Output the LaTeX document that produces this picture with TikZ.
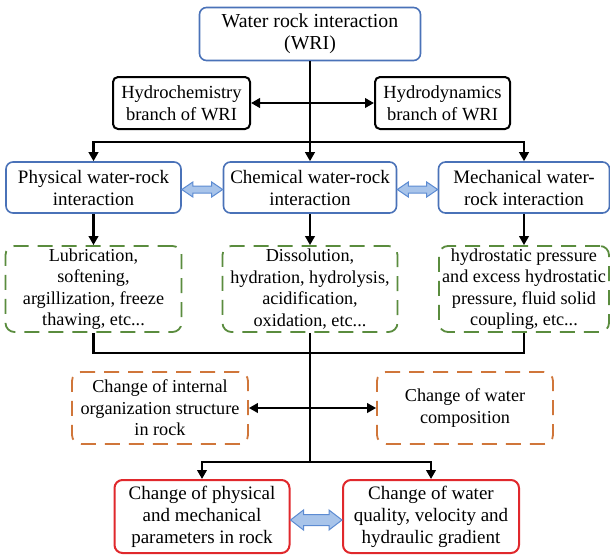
\documentclass[tikz,border=0pt]{standalone}
\usepackage{fontspec}
\setmainfont{Liberation Serif}
\usetikzlibrary{arrows.meta,calc}
\definecolor{bluec}{HTML}{4A72B8}
\definecolor{greenc}{HTML}{5A8C3E}
\definecolor{orangec}{HTML}{D0763A}
\definecolor{redc}{HTML}{E0282C}
\definecolor{fatfill}{HTML}{A8C4EA}
\definecolor{fatdraw}{HTML}{5C8BD2}
\tikzset{
  box/.style={align=center, inner sep=0pt, fill=white},
  bluebox/.style={box, draw=bluec, line width=1.6pt, rounded corners=7pt, font=\fontsize{19}{22}\selectfont},
  topbox/.style={bluebox, font=\fontsize{19.8}{22}\selectfont},
  blackbox/.style={box, draw=black, line width=2pt, rounded corners=5pt, font=\fontsize{18.5}{21.5}\selectfont},
  greenbox/.style={box, draw=greenc, line width=1.8pt, rounded corners=9pt, dash pattern=on 15pt off 9pt, font=\fontsize{18.2}{21.5}\selectfont},
  orangebox/.style={box, draw=orangec, line width=1.8pt, rounded corners=9pt, dash pattern=on 15pt off 9pt, font=\fontsize{18.2}{21.5}\selectfont},
  redbox/.style={box, draw=redc, line width=2pt, rounded corners=8pt, font=\fontsize{19}{22}\selectfont},
  conn/.style={draw=black, line width=2.2pt},
  arr/.style={conn, -{Triangle[length=9pt,width=9.5pt]}},
  darr/.style={conn, {Triangle[length=9pt,width=9.5pt]}-{Triangle[length=9pt,width=9.5pt]}},
  fat/.style={draw=fatdraw, fill=fatfill, line width=1pt, line join=miter}
}
\begin{document}
\begin{tikzpicture}[x=1pt,y=-1pt]
\useasboundingbox (0,0) rectangle (610,555);
% top
\node[topbox, minimum width=221pt, minimum height=53pt] (top) at (310,34) {Water rock interaction\\(WRI)};
\node[blackbox, minimum width=137pt, minimum height=52pt] (hc) at (181.5,103) {Hydrochemistry\\branch of WRI};
\node[blackbox, minimum width=135pt, minimum height=52pt] (hd) at (442.5,103) {Hydrodynamics\\branch of WRI};
% second row
\node[bluebox, minimum width=175pt, minimum height=51pt] (phys) at (93.5,187.5) {Physical water-rock\\interaction};
\node[bluebox, minimum width=173pt, minimum height=51pt] (chem) at (310,187.5) {Chemical water-rock\\interaction};
\node[bluebox, minimum width=171pt, minimum height=51pt] (mech) at (524,187.5) {Mechanical water-\\rock interaction};
% green
\node[greenbox, minimum width=176pt, minimum height=86pt] (gphys) at (93.5,289) {Lubrication,\\softening,\\argillization, freeze\\thawing, etc...};
\node[greenbox, minimum width=175pt, minimum height=86pt] (gchem) at (310,289) {Dissolution,\\hydration, hydrolysis,\\acidification,\\oxidation, etc...};
\node[greenbox, minimum width=170pt, minimum height=86pt] (gmech) at (524,289) {hydrostatic pressure\\and excess hydrostatic\\pressure, fluid solid\\coupling, etc...};
% orange
\node[orangebox, minimum width=176pt, minimum height=72pt] (ol) at (160,408) {Change of internal\\organization structure\\in rock};
\node[orangebox, minimum width=176pt, minimum height=72pt] (or) at (465,408) {Change of water\\composition};
% red
\node[redbox, minimum width=175pt, minimum height=73pt] (rl) at (202,516.5) {Change of physical\\and mechanical\\parameters in rock};
\node[redbox, minimum width=176pt, minimum height=73pt] (rr) at (431,516.5) {Change of water\\quality, velocity and\\hydraulic gradient};
% junctions
\coordinate (j1) at (310,142);
\coordinate (j2) at (310,353);
\coordinate (j3) at (310,462);
% connectors
\draw[conn] (top.south) -- (j1);
\draw[darr] (hc.east) -- (hd.west);
\draw[arr] (j1) -| (phys.north);
\draw[arr] (j1) -- (chem.north);
\draw[arr] (j1) -| (mech.north);
\draw[arr] (phys.south) -- (gphys.north);
\draw[arr] (chem.south) -- (gchem.north);
\draw[arr] (mech.south) -- (gmech.north);
\draw[conn] (gphys.south) |- (j2) -| (gmech.south);
\draw[conn] (gchem.south) -- (j3);
\draw[darr] (ol.east) -- (or.west);
\draw[arr] (j3) -| (rl.north);
\draw[arr] (j3) -| (rr.north);
% fat double arrows
\coordinate (a1) at ([yshift=-2pt]phys.east);
\coordinate (b1) at ([yshift=-2pt]chem.west);
\coordinate (a2) at ([yshift=-2pt]chem.east);
\coordinate (b2) at ([yshift=-2pt]mech.west);
\coordinate (a3) at ([yshift=-3.5pt]rl.east);
\coordinate (b3) at ([yshift=-3.5pt]rr.west);
\draw[fat] (a1) -- ++(11,-7.5) -- ++(0,4) -- ($(b1)+(-11,-3.5)$) -- ++(0,-4) -- (b1)
  -- ++(-11,7.5) -- ++(0,-4) -- ($(a1)+(11,3.5)$) -- ++(0,4) -- cycle;
\draw[fat] (a2) -- ++(11,-7.5) -- ++(0,4) -- ($(b2)+(-11,-3.5)$) -- ++(0,-4) -- (b2)
  -- ++(-11,7.5) -- ++(0,-4) -- ($(a2)+(11,3.5)$) -- ++(0,4) -- cycle;
\draw[fat] (a3) -- ++(13,-10) -- ++(0,4.5) -- ($(b3)+(-13,-5.5)$) -- ++(0,-4.5) -- (b3)
  -- ++(-13,10) -- ++(0,-4.5) -- ($(a3)+(13,5.5)$) -- ++(0,4.5) -- cycle;
\end{tikzpicture}
\end{document}
